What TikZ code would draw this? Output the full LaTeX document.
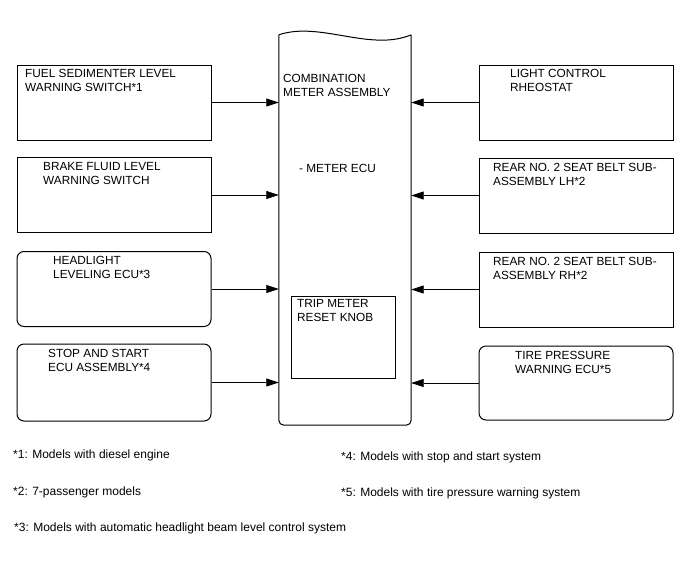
\documentclass[tikz,border=0pt]{standalone}
\usepackage{fontspec}
\setmainfont{Liberation Sans}
\usetikzlibrary{arrows.meta, calc}

\begin{document}
\begin{tikzpicture}[
  x=1pt, y=-1pt,
  %% plain and rounded part boxes
  blk/.style={
    draw, line width=1pt, minimum width=194pt, minimum height=75pt,
    inner sep=0pt
  },
  rblk/.style={blk, rounded corners=7pt},
  %% signal arrow into the meter
  sig/.style={
    -{Triangle[length=12.5pt,width=8pt]}, line width=0.75pt
  },
  txt/.style={
    font=\fontsize{11.8}{14}\selectfont, align=left,
    anchor=north west, inner sep=0pt
  },
  note/.style={
    font=\fontsize{12}{14}\selectfont, anchor=base west, inner sep=0pt
  },
]
\useasboundingbox (0,0) rectangle (688,560);

%% ── Geometry ─────────────────────────────────────────────────────────────────
\def\xL{114}   % centre of left column
\def\xR{576}   % centre of right column

%% ── Combination meter (wavy top) ─────────────────────────────────────────────
\node[minimum width=132pt, minimum height=390pt, inner sep=0pt]
  (meter) at (345,230) {};
\draw[line width=1pt, rounded corners=5pt]
  (meter.north west) -- (meter.south west) -- (meter.south east)
  -- (meter.north east);
\draw[line width=1pt]
  (meter.north west) .. controls (320,21) and (370,52) .. (meter.north east);

\node[txt] (meterlbl) at (283,74) {COMBINATION\\METER ASSEMBLY};
\node[txt] (ecu) at (299,164) {- METER ECU};

%% trip meter knob inside the meter
\node[draw, line width=1pt, minimum width=104pt, minimum height=82pt,
      inner sep=0pt] (trip) at (343,337) {};
\node[txt] (triplbl) at (297,299) {TRIP METER\\RESET KNOB};

%% ── Left column ──────────────────────────────────────────────────────────────
\node[blk]  (fuel)  at (\xL,102.5) {};
\node[blk]  (brake) at (\xL,195) {};
\node[rblk] (head)  at (\xL,289) {};
\node[rblk, minimum height=77pt] (stop) at (\xL,382.5) {};

\node[txt] (fuellbl)  at (25,69)  {FUEL SEDIMENTER LEVEL\\WARNING SWITCH*1};
\node[txt] (brakelbl) at (43,162) {BRAKE FLUID LEVEL\\WARNING SWITCH};
\node[txt] (headlbl)  at (53,256) {HEADLIGHT\\LEVELING ECU*3};
\node[txt] (stoplbl)  at (48,349) {STOP AND START\\ECU ASSEMBLY*4};

%% ── Right column ─────────────────────────────────────────────────────────────
\node[blk]  (rheo)  at (\xR,102.5) {};
\node[blk]  (beltl) at (\xR,195.5) {};
\node[blk]  (beltr) at (\xR,289.5) {};
\node[rblk, minimum height=74pt] (tire) at (\xR,383) {};

\node[txt] (rheolbl)  at (510,69)  {LIGHT CONTROL\\RHEOSTAT};
\node[txt] (beltllbl) at (493,163) {REAR NO. 2 SEAT BELT SUB-\\ASSEMBLY LH*2};
\node[txt] (beltrlbl) at (493,257) {REAR NO. 2 SEAT BELT SUB-\\ASSEMBLY RH*2};
\node[txt] (tirelbl)  at (515,351) {TIRE PRESSURE\\WARNING ECU*5};

%% ── Signals ──────────────────────────────────────────────────────────────────
\foreach \n in {fuel, brake, head, stop}
  \draw[sig] (\n.east) -- (\n.east -| meter.west);
\foreach \n in {rheo, beltl, beltr, tire}
  \draw[sig] (\n.west) -- (\n.west -| meter.east);

%% ── Footnotes ────────────────────────────────────────────────────────────────
\node[note] (n1) at (13,458)  {*1: Models with diesel engine};
\node[note] (n2) at (13,495)  {*2: 7-passenger models};
\node[note] (n3) at (14,531)  {*3: Models with automatic headlight beam level control system};
\node[note] (n4) at (341,460) {*4: Models with stop and start system};
\node[note] (n5) at (341,496) {*5: Models with tire pressure warning system};

\end{tikzpicture}
\end{document}
